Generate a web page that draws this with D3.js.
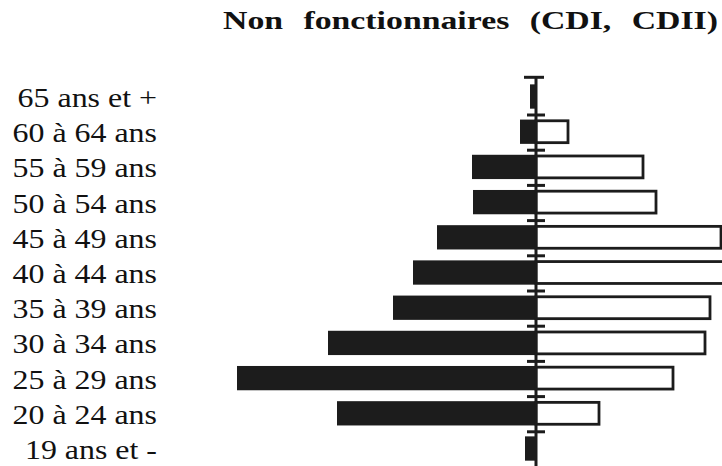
<!DOCTYPE html>
<html>
<head>
<meta charset="utf-8">
<script src="https://cdn.jsdelivr.net/npm/d3@7"></script>
<style>
  body { margin: 0; background: #fff; }
  svg { display: block; }
  svg text { font-family: "Times New Roman", "Liberation Serif", Tinos, serif; }
</style>
</head>
<body>
<svg id="graph"></svg>
<script>
// tranches d'age, du haut vers le bas
const ages = ['65 ans et +', '60 à 64 ans', '55 à 59 ans', '50 à 54 ans', '45 à 49 ans',
              '40 à 44 ans', '35 à 39 ans', '30 à 34 ans', '25 à 29 ans', '20 à 24 ans', '19 ans et -']
const leftValues = [6, 16, 64, 63, 99, 123, 143, 208, 299, 199, 11]
const rightValues = [0, 32, 107, 120, 185, 200, 174, 169, 137, 63, 0]
const title = 'Non fonctionnaires (CDI, CDII)'

function drawGraph() {
    let fullWidth = 722
    let fullHeight = 466
    let axisX = 536
    let ink = '#1c1c1c'

    let svg = d3.select('svg#graph')
                .attr('width', fullWidth)
                .attr('height', fullHeight)

    svg.append('rect')
       .attr('width', fullWidth)
       .attr('height', fullHeight)
       .attr('fill', '#fff')

    let rows = d3.scaleBand()
                 .domain(ages)
                 .range([79.8, 467])
                 .padding(0)

    let x = d3.scaleLinear().domain([0, 300]).range([0, 300])

    let barH = rows.bandwidth() * 0.69
    let barOff = rows.bandwidth() * 0.13

    let data = ages.map((age, i) => ({age, left: leftValues[i], right: rightValues[i]}))

    // barres de gauche (noires)
    svg.append('g').selectAll('rect')
       .data(data)
       .join('rect')
       .attr('x', d => axisX - x(d.left))
       .attr('y', d => rows(d.age) + barOff)
       .attr('width', d => x(d.left))
       .attr('height', barH)
       .attr('fill', ink)

    // barres de droite (blanches cerclees)
    svg.append('g').selectAll('rect')
       .data(data.filter(d => d.right > 0))
       .join('rect')
       .attr('x', axisX)
       .attr('y', d => rows(d.age) + barOff + 1.2)
       .attr('width', d => x(d.right))
       .attr('height', barH - 2.4)
       .attr('fill', '#fff')
       .attr('stroke', ink)
       .attr('stroke-width', 2.8)

    // axe central
    svg.append('line')
       .attr('x1', axisX).attr('x2', axisX)
       .attr('y1', rows(ages[0]) - 2.5).attr('y2', fullHeight + 5)
       .attr('stroke', ink)
       .attr('stroke-width', 3)

    svg.append('line')
       .attr('x1', axisX - 12).attr('x2', axisX + 8)
       .attr('y1', rows(ages[0]) - 2.5).attr('y2', rows(ages[0]) - 2.5)
       .attr('stroke', ink)
       .attr('stroke-width', 3)

    svg.append('g').selectAll('line')
       .data(ages.slice(1))
       .join('line')
       .attr('x1', axisX - 9).attr('x2', axisX + 9)
       .attr('y1', d => rows(d)).attr('y2', d => rows(d))
       .attr('stroke', ink)
       .attr('stroke-width', 3)

    // libelles des tranches
    svg.append('g').selectAll('text')
       .data(ages)
       .join('text')
       .attr('transform', d => 'translate(157,' + (rows(d) + rows.bandwidth() / 2 + 9.5) + ') scale(1.14,1)')
       .attr('text-anchor', 'end')
       .attr('font-size', 28)
       .attr('fill', '#111')
       .text(d => d)

    // titre
    let t = svg.append('text')
               .attr('transform', 'translate(223,28.5) scale(1.3,1)')
               .attr('font-weight', 'bold')
               .attr('font-size', 26)
               .attr('fill', '#111')
               .text(title)
    let natural = t.node().getComputedTextLength()
    let spaces = title.split(' ').length - 1
    t.attr('word-spacing', (495 / 1.3 - natural) / spaces)
}

drawGraph()
</script>
</body>
</html>
